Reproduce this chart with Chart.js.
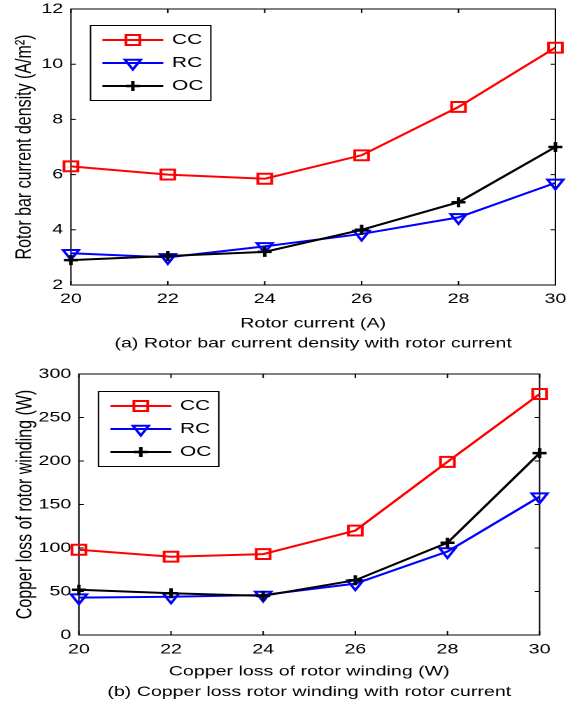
<!DOCTYPE html>
<html><head><meta charset="utf-8">
<script src="https://cdn.jsdelivr.net/npm/chart.js@4.4.1/dist/chart.umd.min.js"></script>
<style>
html,body{margin:0;padding:0;background:#fff;width:568px;height:706px;overflow:hidden}
.wrap{position:absolute;left:0;transform-origin:0 0;transform:scaleX(1.399)}
canvas{display:block}
</style></head><body>
<div class="wrap" style="top:0"><canvas id="c1" width="406" height="356"></canvas></div>
<div class="wrap" style="top:356px"><canvas id="c2" width="406" height="350"></canvas></div>
<script>
// ---- data ----
const rotorCurrent = [20, 22, 24, 26, 28, 30];
const seriesNames = ['CC', 'RC', 'OC'];
const densityCC = [6.3, 6.0, 5.85, 6.7, 8.45, 10.6];
const densityRC = [3.15, 3.0, 3.4, 3.85, 4.45, 5.7];
const densityOC = [2.9, 3.05, 3.2, 4.0, 5.0, 7.0];
const lossCC = [98, 90, 93, 120, 199, 277];
const lossRC = [43, 44, 46, 59, 96, 159];
const lossOC = [52, 48, 45, 63, 106, 209];
const xTicks = [20, 22, 24, 26, 28, 30];
const densityTicks = [2, 4, 6, 8, 10, 12];
const lossTicks = [0, 50, 100, 150, 200, 250, 300];

const FONT = "'Liberation Sans', Arial, sans-serif";
Chart.defaults.color = '#000';
Chart.defaults.font.family = FONT;

const styles = {
  CC: {color: '#ff0000', pointStyle: 'rect', rotation: 0, radius: 7, bw: 2},
  RC: {color: '#0000ff', pointStyle: 'triangle', rotation: 180, radius: 6.5, bw: 2},
  OC: {color: '#000000', pointStyle: 'cross', rotation: 0, radius: 5, bw: 2.5}
};

function makeDataset(name, values, order) {
  const s = styles[name];
  return {
    label: name,
    data: rotorCurrent.map((x, i) => ({x: x, y: values[i]})),
    borderColor: s.color, backgroundColor: 'rgba(0,0,0,0)',
    borderWidth: 2, pointStyle: s.pointStyle, pointRotation: s.rotation,
    pointRadius: s.radius, pointBorderWidth: s.bw, pointBorderColor: s.color,
    pointBackgroundColor: 'rgba(0,0,0,0)', tension: 0, clip: false, order: order
  };
}

function drawMarker(ctx, s, x, y) {
  ctx.save();
  ctx.strokeStyle = s.color; ctx.lineWidth = s.bw;
  if (Chart.helpers && Chart.helpers.drawPoint) {
    ctx.fillStyle = 'rgba(0,0,0,0)';
    Chart.helpers.drawPoint(ctx, {pointStyle: s.pointStyle, rotation: s.rotation, radius: s.radius, borderWidth: s.bw}, x, y);
  } else {
    ctx.beginPath();
    if (s.pointStyle === 'rect') { const h = s.radius * Math.SQRT1_2; ctx.rect(x - h, y - h, 2 * h, 2 * h); }
    else if (s.pointStyle === 'triangle') { const r = s.radius; ctx.moveTo(x, y + r); ctx.lineTo(x - r * 0.866, y - r / 2); ctx.lineTo(x + r * 0.866, y - r / 2); ctx.closePath(); }
    else { const r = s.radius; ctx.moveTo(x - r, y); ctx.lineTo(x + r, y); ctx.moveTo(x, y - r); ctx.lineTo(x, y + r); }
    ctx.stroke();
  }
  ctx.restore();
}

const framePlugin = {
  id: 'frame',
  beforeDatasetsDraw(chart) {
    const {ctx, chartArea: a} = chart;
    const xs = chart.scales.x, ys = chart.scales.y;
    ctx.save();
    ctx.strokeStyle = '#000'; ctx.lineWidth = 1;
    ctx.strokeRect(a.left, a.top, a.right - a.left, a.bottom - a.top);
    ctx.beginPath();
    xs.ticks.forEach(t => {
      const px = xs.getPixelForValue(t.value);
      ctx.moveTo(px, a.bottom); ctx.lineTo(px, a.bottom - 4);
      ctx.moveTo(px, a.top); ctx.lineTo(px, a.top + 4);
    });
    ys.ticks.forEach(t => {
      const py = ys.getPixelForValue(t.value);
      ctx.moveTo(a.left, py); ctx.lineTo(a.left + 3.5, py);
      ctx.moveTo(a.right, py); ctx.lineTo(a.right - 3.5, py);
    });
    ctx.stroke();
    ctx.restore();
  }
};

const legendPlugin = {
  id: 'boxLegend',
  afterDatasetsDraw(chart, args, opts) {
    const {ctx, chartArea: a} = chart;
    const bx = a.left + opts.x, by = a.top + opts.y;
    ctx.save();
    ctx.fillStyle = '#fff'; ctx.fillRect(bx, by, opts.w, opts.h);
    ctx.strokeStyle = '#000'; ctx.lineWidth = 1; ctx.strokeRect(bx, by, opts.w, opts.h);
    seriesNames.forEach((name, i) => {
      const s = styles[name];
      const ry = by + opts.row0 + i * opts.rowStep;
      ctx.strokeStyle = s.color; ctx.lineWidth = 2;
      ctx.beginPath(); ctx.moveTo(bx + opts.lineX0, ry); ctx.lineTo(bx + opts.lineX1, ry); ctx.stroke();
      drawMarker(ctx, s, bx + (opts.lineX0 + opts.lineX1) / 2, ry);
      ctx.fillStyle = '#000'; ctx.font = '15px ' + FONT;
      ctx.textAlign = 'left'; ctx.textBaseline = 'middle';
      ctx.fillText(name, bx + opts.textX, ry);
    });
    ctx.restore();
  }
};

function makeChart(id, cfg) {
  return new Chart(document.getElementById(id), {
    type: 'line',
    data: {datasets: [
      makeDataset('CC', cfg.cc, 3),
      makeDataset('RC', cfg.rc, 2),
      makeDataset('OC', cfg.oc, 1)
    ]},
    options: {
      responsive: false, animation: false, devicePixelRatio: 2,
      layout: {padding: cfg.padding},
      plugins: {
        legend: {display: false}, tooltip: {enabled: false},
        boxLegend: {x: 14, y: cfg.legendY, w: 86, h: 75, row0: 14.5, rowStep: 23, lineX0: 8.5, lineX1: 52, textX: 58.2}
      },
      scales: {
        x: {
          type: 'linear', min: 20, max: 30,
          afterBuildTicks: s => { s.ticks = xTicks.map(v => ({value: v})); },
          afterFit: s => { s.height = 71; s.paddingLeft = 0; s.paddingRight = 0; },
          grid: {display: false, drawTicks: false}, border: {display: false},
          ticks: {padding: cfg.xTickPad, font: {size: 14, lineHeight: 1}, color: '#000'},
          title: {display: true, text: cfg.xTitle, color: '#000',
                  font: {size: 14, lineHeight: cfg.xTitleLH}, padding: {top: 0, bottom: cfg.xTitlePadB}}
        },
        y: {
          type: 'linear', min: cfg.yMin, max: cfg.yMax,
          afterBuildTicks: s => { s.ticks = cfg.yTicks.map(v => ({value: v})); },
          afterFit: s => { s.width = cfg.yWidth; s.paddingTop = 0; s.paddingBottom = 0; },
          grid: {display: false, drawTicks: false}, border: {display: false},
          ticks: {padding: 5.5, font: {size: 14, lineHeight: 1}, color: '#000'},
          title: {display: true, text: cfg.yTitle, color: '#000',
                  font: {size: 16, lineHeight: 1.2}, padding: {top: cfg.yTitlePad, bottom: 0}}
        }
      }
    },
    plugins: [framePlugin, legendPlugin]
  });
}

makeChart('c1', {
  cc: densityCC, rc: densityRC, oc: densityOC,
  yMin: 2, yMax: 12, yTicks: densityTicks, yWidth: 50.7, yTitlePad: 8,
  yTitle: 'Rotor bar current density (A/m²)',
  xTitle: ['Rotor current (A)', '(a) Rotor bar current density with rotor current'],
  xTitleLH: 1.407, xTitlePadB: 2.65, xTickPad: 7,
  padding: {top: 7.5, right: 7.4, bottom: 0, left: 0}, legendY: 16.5
});

makeChart('c2', {
  cc: lossCC, rc: lossRC, oc: lossOC,
  yMin: 0, yMax: 300, yTicks: lossTicks, yWidth: 56.4, yTitlePad: 8.5,
  yTitle: 'Copper loss of rotor winding (W)',
  xTitle: ['Copper loss of rotor winding (W)', '(b) Copper loss rotor winding with rotor current'],
  xTitleLH: 1.464, xTitlePadB: 3.85, xTickPad: 7.5,
  padding: {top: 18, right: 20.3, bottom: 0, left: 0}, legendY: 17.5
});
</script>
</body></html>
